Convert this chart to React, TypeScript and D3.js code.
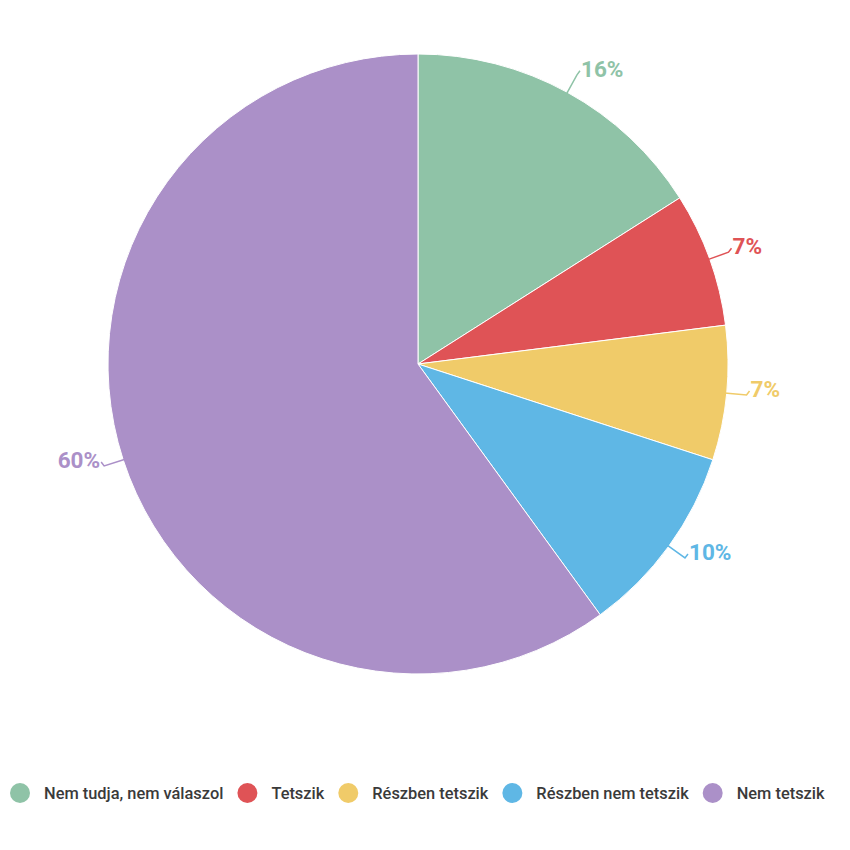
import React, { useEffect, useRef } from "react";
import * as d3 from "d3";

const categories = ["Nem tudja, nem válaszol", "Tetszik", "Részben tetszik", "Részben nem tetszik", "Nem tetszik"];
const values = [16, 7, 7, 10, 60];
const colors = ["#8FC3A7", "#DF5356", "#F0CB69", "#5FB7E5", "#AB90C8"];

const W = 850;
const H = 850;
const CX = 418;
const CY = 364;
const R = 310;

export default function App() {
  const ref = useRef<SVGSVGElement>(null);
  useEffect(() => {
    const svg = d3.select(ref.current);
    svg.selectAll("*").remove();
    const data = categories.map((c, i) => ({ c, v: values[i], color: colors[i] }));
    const pie = d3.pie<any>().value((d) => d.v).sort(null);
    const arcs = pie(data);
    const arc = d3.arc<any>().innerRadius(0).outerRadius(R);
    const g = svg.append("g").attr("transform", `translate(${CX},${CY})`);
    g.selectAll("path.slice")
      .data(arcs)
      .enter()
      .append("path")
      .attr("class", "slice")
      .attr("d", arc as any)
      .attr("fill", (d) => d.data.color)
      .attr("stroke", "#fff")
      .attr("stroke-width", 1);

    arcs.forEach((a) => {
      const mid = (a.startAngle + a.endAngle) / 2;
      const sx = Math.sin(mid), sy = -Math.cos(mid);
      const right = sx >= 0;
      const p1 = [sx * (R - 2), sy * (R - 2)];
      const p2 = [sx * (R + 20), sy * (R + 20)];
      const p3 = [p2[0] + (right ? 3 : -3), p2[1] - 4];
      g.append("polyline")
        .attr("points", [p1, p2, p3].map((p) => p.join(",")).join(" "))
        .attr("fill", "none")
        .attr("stroke", a.data.color)
        .attr("stroke-width", 1.5);
      g.append("text")
        .attr("x", p3[0] + (right ? 1 : -1))
        .attr("y", p3[1] - 2)
        .attr("dy", "0.35em")
        .attr("text-anchor", right ? "start" : "end")
        .attr("font-family", "Roboto")
        .attr("font-weight", 700)
        .attr("font-size", 22.5)
        .attr("fill", a.data.color)
        .attr("stroke", "#fff")
        .attr("stroke-width", 2)
        .attr("paint-order", "stroke")
        .text(`${a.data.v}%`);
    });

    // legend
    const lg = svg.append("g");
    let x = 0;
    data.forEach((d) => {
      const it = lg.append("g");
      it.append("circle").attr("cx", 10).attr("cy", 0).attr("r", 10).attr("fill", d.color);
      const t = it
        .append("text")
        .attr("x", 34)
        .attr("y", 0)
        .attr("dy", "0.35em")
        .attr("font-family", "Roboto")
        .attr("font-weight", 500)
        .attr("font-size", 16.4)
        .attr("fill", "#3a3a3a")
        .text(d.c);
      const w = (t.node() as SVGTextElement).getComputedTextLength();
      it.attr("transform", `translate(${x},0)`);
      x += 34 + w + 14;
    });
    lg.attr("transform", `translate(10,793)`);
  }, []);
  return (
    <svg ref={ref} width={W} height={H} style={{ position: "absolute", left: 0, top: 0, background: "#fff" }} />
  );
}
